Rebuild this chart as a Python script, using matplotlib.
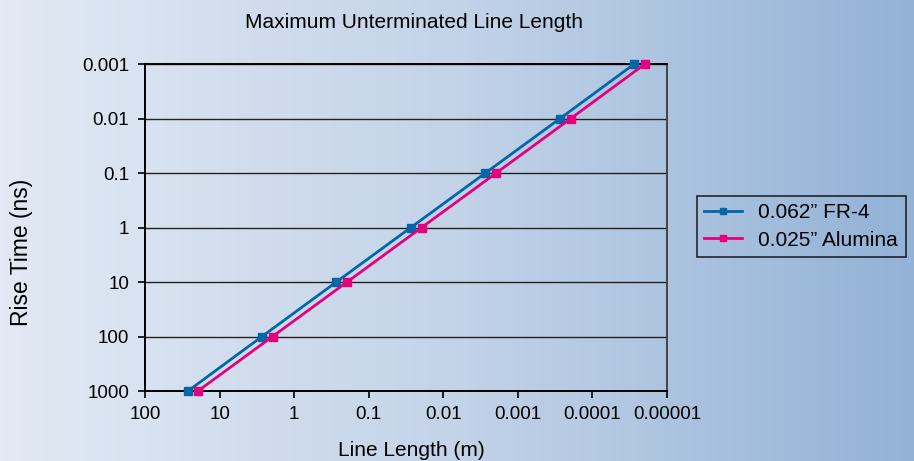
import numpy as np
import matplotlib
matplotlib.use("Agg")
import matplotlib.pyplot as plt
from matplotlib.colors import LinearSegmentedColormap

plt.rcParams['font.family'] = ['Liberation Sans', 'DejaVu Sans']

# datos
rise_time = [1000, 100, 10, 1, 0.1, 0.01, 0.001]
fr4_len = [26.5, 2.7, 0.272, 0.0272, 0.00272, 0.000272, 0.0000275]
alumina_len = [19.5, 1.95, 0.195, 0.0195, 0.00195, 0.000195, 0.0000198]

x_ticks = [100, 10, 1, 0.1, 0.01, 0.001, 0.0001, 0.00001]
x_labels = ['100', '10', '1', '0.1', '0.01', '0.001', '0.0001', '0.00001']
y_ticks = [0.001, 0.01, 0.1, 1, 10, 100, 1000]
y_labels = ['0.001', '0.01', '0.1', '1', '10', '100', '1000']

fig = plt.figure(figsize=(9.14, 4.61), dpi=100)

# fondo degradado
bg = fig.add_axes([0, 0, 1, 1], zorder=-10)
cmap = LinearSegmentedColormap.from_list('bg', ['#e2e9f4', '#c3d3e8', '#93b2d6'])
bg.imshow(np.linspace(0, 1, 256).reshape(1, -1), aspect='auto', cmap=cmap,
          extent=[0, 1, 0, 1])
bg.set_axis_off()

ax = fig.add_axes([145/914, 70/461, 522/914, 327/461])
ax.set_facecolor('none')
ax.set_xscale('log')
ax.set_yscale('log')
ax.set_xlim(100, 0.00001)
ax.set_ylim(1000, 0.001)

ax.plot(fr4_len, rise_time, color='#0067a8', lw=2, marker='s', ms=6,
        clip_on=False, zorder=3, label='0.062\u201d FR-4')
ax.plot(alumina_len, rise_time, color='#e5007d', lw=2, marker='s', ms=6,
        clip_on=False, zorder=3, label='0.025\u201d Alumina')

ax.set_xticks(x_ticks)
ax.set_xticklabels(x_labels)
ax.set_yticks(y_ticks)
ax.set_yticklabels(y_labels)
ax.minorticks_off()
ax.tick_params(axis='both', labelsize=13.5, direction='out', length=5, width=1.2)
ax.tick_params(axis='y', pad=6.5)
ax.tick_params(axis='x', pad=6)

ax.yaxis.grid(True, color='#222222', lw=1)
for s in ['left', 'bottom', 'top']:
    ax.spines[s].set_color('black')
    ax.spines[s].set_linewidth(1.4)
ax.spines['right'].set_color('#444444')
ax.spines['right'].set_linewidth(1.4)

leg = ax.legend(loc='upper left', bbox_to_anchor=(697/914, 1 - 196/461),
                bbox_transform=fig.transFigure, borderaxespad=0, fontsize=15,
                frameon=True, fancybox=False, edgecolor='black', facecolor='none',
                handlelength=1.8, handletextpad=0.8, labelspacing=0.4,
                borderpad=0.35, markerscale=0.8)
leg.get_frame().set_linewidth(1.2)

fig.text(414/914, 1 - 22/461, 'Maximum Unterminated Line Length', ha='center',
         va='center', fontsize=15)
fig.text(411/914, 1 - 450/461, 'Line Length (m)', ha='center', va='center',
         fontsize=15)
fig.text(22/914, 1 - 252/461, 'Rise Time (ns)', ha='center', va='center',
         rotation=90, fontsize=16.5)

fig.savefig('out.png', dpi=100)
